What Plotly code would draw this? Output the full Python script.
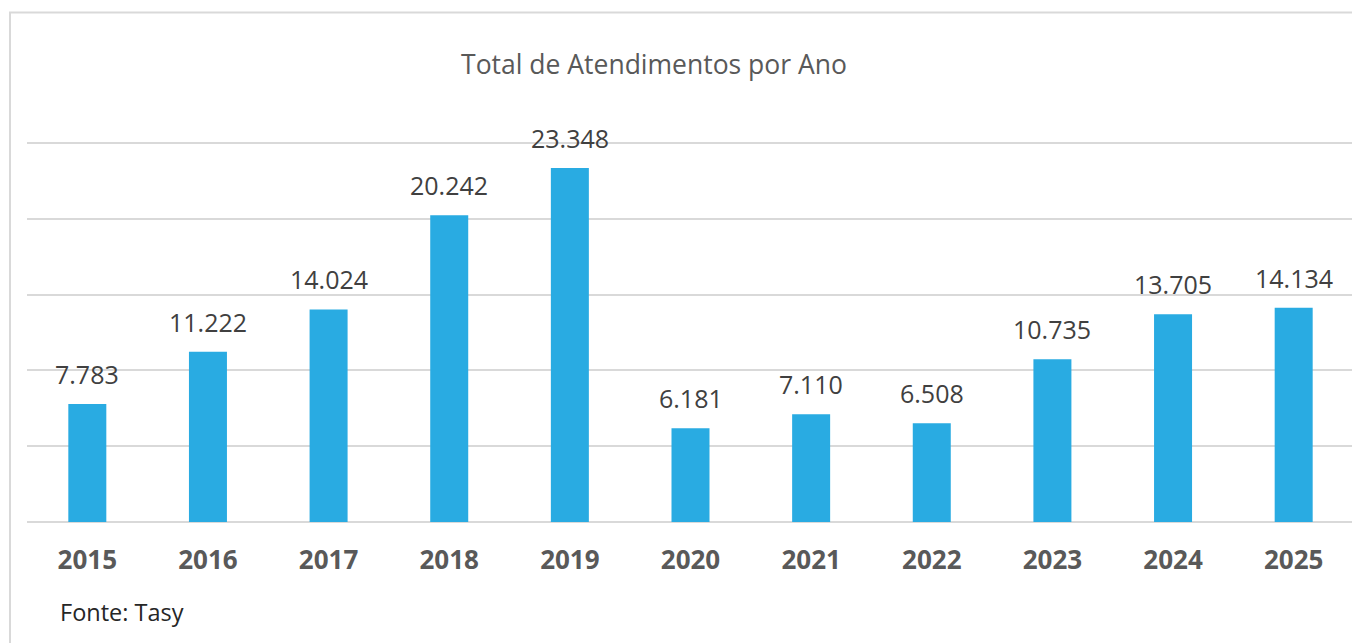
import plotly.graph_objects as go

# anos e total de atendimentos (fonte: Tasy)
anos = ['2015', '2016', '2017', '2018', '2019', '2020',
        '2021', '2022', '2023', '2024', '2025']
atendimentos = [7783, 11222, 14024, 20242, 23348, 6181,
                7110, 6508, 10735, 13705, 14134]

W, H = 1360, 643
OFF = 8  # margem padrao do body da pagina
# area do grafico: topo um pouco acima da ultima linha de grade (25000)
L, R, T, B = 27 - OFF, 14, 137 - OFF, 129
plot_w = W - L - R
plot_h = H - T - B
Y_MAX = 25000
Y_TOP = Y_MAX * (522 - 137) / (522 - 143)


def px_x(px):
    # px = posicao na tela
    return (px - OFF - L) / plot_w


def px_y(py):
    return (H - B - (py - OFF)) / plot_h


def fmt(v):
    return f'{v:,}'.replace(',', '.')


fig = go.Figure()
fig.add_trace(go.Bar(
    x=anos, y=atendimentos,
    marker=dict(color='#29abe2', line=dict(width=0)),
    hoverinfo='skip',
))

# rotulos de dados acima das barras (x = indice da categoria)
for i, v in enumerate(atendimentos):
    fig.add_annotation(
        x=i, y=v, text=fmt(v), showarrow=False,
        yanchor='bottom', yshift=11,
        font=dict(family='Open Sans', size=25, color='#404040'),
    )

fig.add_annotation(
    xref='paper', yref='paper', x=px_x(58), y=px_y(612),
    xanchor='left', yanchor='middle', showarrow=False,
    text='Fonte: Tasy',
    font=dict(family='Open Sans', size=23.5, color='#262626'),
)

# moldura (so aparecem esquerda e topo)
fig.add_shape(
    type='rect', xref='paper', yref='paper',
    x0=px_x(10), x1=px_x(1390), y0=px_y(680), y1=px_y(12.5),
    line=dict(color='#d9d9d9', width=2), fillcolor='rgba(0,0,0,0)',
    layer='below',
)

fig.update_layout(
    width=W, height=H,
    margin=dict(l=L, r=R, t=T, b=B, autoexpand=False),
    paper_bgcolor='white', plot_bgcolor='white',
    showlegend=False, bargap=0.685,
    title=dict(
        text='Total de Atendimentos por Ano',
        x=px_x(654), xref='paper', xanchor='center',
        y=1 - (65 - OFF) / H, yanchor='middle',
        font=dict(family='Open Sans', size=26.5, color='#595959'),
    ),
    font=dict(family='Open Sans'),
)
fig.update_xaxes(
    type='category', range=[-0.5, len(anos) - 0.5], automargin=False,
    showgrid=False, showline=False, ticks='',
    tickfont=dict(family='Open Sans', size=26, color='#595959',
                  weight='bold'),
    ticklabelstandoff=20,
)
fig.update_yaxes(
    range=[0, Y_TOP], tick0=0, dtick=5000, showticklabels=False,
    automargin=False,
    showgrid=True, gridcolor='#d9d9d9', gridwidth=2,
    zeroline=True, zerolinecolor='#d9d9d9', zerolinewidth=2,
    showline=False,
)

fig.write_html('out.html')
